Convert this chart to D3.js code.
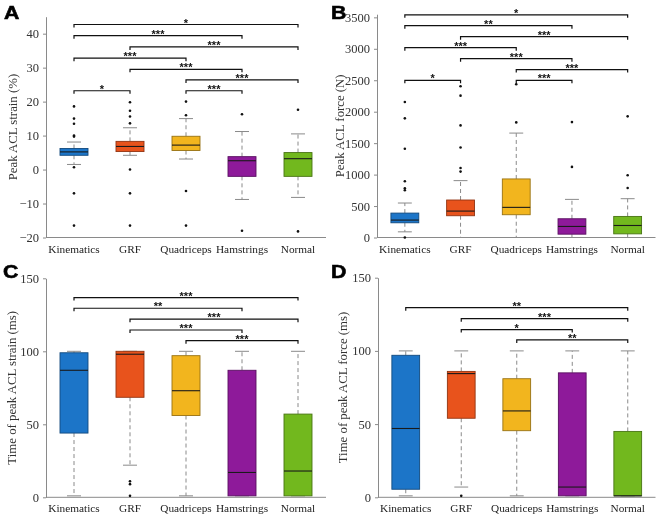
<!DOCTYPE html>
<html>
<head>
<meta charset="utf-8">
<script src="https://cdn.jsdelivr.net/npm/d3@7"></script>
<style>
  body { margin: 0; background: #fff; }
  svg text { font-family: "Liberation Serif", "Times New Roman", serif; }
  svg text.sans { font-family: "Liberation Sans", Arial, sans-serif; }
  svg { will-change: transform; }
</style>
</head>
<body>
<svg id="chart" width="660" height="520"></svg>
<script>
const categories = ["Kinematics", "GRF", "Quadriceps", "Hamstrings", "Normal"];
const colors = ["#1c75c8", "#e8531c", "#f2b51e", "#8e1a9a", "#72b81e"];

// A: peak ACL strain (%)
const strainQ1 = [4.2, 5.3, 5.6, -2, -2];
const strainMedian = [5.2, 6.8, 7.2, 2.6, 3.2];
const strainQ3 = [6.2, 8.3, 9.8, 3.8, 5];
const strainLo = [1.5, 4.2, 3.1, -8.8, -8.2];
const strainHi = [8.1, 12.3, 15, 11.2, 10.5];
const strainOutliers = [
  [18.6, 15, 13.5, 10, 9.7, 0.7, -7, -16.5],
  [19.8, 17.3, 15.6, 13.6, 0, -7, -16.5],
  [20, 16, -6.3, -16.5],
  [16.3, -18],
  [17.6, -18.2]
];
// [from, to, level, stars]
const strainBrackets = [
  [0, 4, 42.7, "*"], [0, 3, 39.4, "***"], [1, 4, 36.1, "***"], [0, 2, 32.8, "***"],
  [1, 3, 29.5, "***"], [2, 4, 26.4, "***"], [2, 3, 23.2, "***"], [0, 1, 23.2, "*"]
];

// B: peak ACL force (N)
const forceQ1 = [234, 346, 362, 53, 58];
const forceMedian = [277, 420, 479, 176, 191];
const forceQ3 = [388, 596, 931, 298, 335];
const forceLo = [90, 0, 0, 0, 0];
const forceHi = [548, 904, 1660, 606, 617];
const forceOutliers = [
  [2154, 1894, 1410, 894, 782, 750, 0],
  [2404, 2255, 1782, 1431, 1106, 1048],
  [2436, 1830],
  [1835, 1122],
  [1926, 989, 787]
];
const forceBrackets = [
  [0, 4, 3540, "*"], [0, 3, 3368, "**"], [1, 4, 3193, "***"], [0, 2, 3018, "***"],
  [1, 3, 2843, "***"], [2, 4, 2669, "***"], [2, 3, 2499, "***"], [0, 1, 2499, "*"]
];

// C: time of peak ACL strain (ms)
const tStrainQ1 = [44, 68.5, 56, 1, 1];
const tStrainMedian = [87, 98, 73, 17, 18];
const tStrainQ3 = [99, 100, 97, 87, 57];
const tStrainLo = [1, 22, 1, 1, 1];
const tStrainHi = [100, 100, 100, 100, 100];
const tStrainOutliers = [[], [11, 9, 1], [], [], []];
const tStrainBrackets = [
  [0, 4, 136.8, "***"], [0, 3, 129.5, "**"], [1, 4, 122, "***"],
  [1, 3, 114.6, "***"], [2, 4, 107.3, "***"]
];

// D: time of peak ACL force (ms)
const tForceQ1 = [5.5, 54, 45.5, 1, 1];
const tForceMedian = [47, 84.5, 59, 7, 1];
const tForceQ3 = [97, 86, 81, 85, 45];
const tForceLo = [1, 7, 1, 1, 1];
const tForceHi = [100, 100, 100, 100, 100];
const tForceOutliers = [[], [1], [], [], []];
const tForceBrackets = [
  [0, 4, 129.5, "**"], [1, 4, 122, "***"], [1, 3, 114.6, "*"], [2, 4, 107.5, "**"]
];

const svg = d3.select("#chart");
const serif = "'Liberation Serif', 'Times New Roman', serif";

function drawPanel(p) {
  const x = d3.scaleLinear().domain([0.5, 5.5]).range([p.left, p.right]);
  const y = d3.scaleLinear().domain(p.domain).range([p.bottom, p.top]);
  const g = svg.append("g");
  const half = (x(1.25) - x(1)); // box half width
  const capHalf = half / 2;

  // axes
  const yAxis = g.append("g")
    .attr("transform", `translate(${p.left},0)`)
    .call(d3.axisLeft(y).tickValues(p.ticks).tickFormat(d3.format("d"))
      .tickSize(3).tickPadding(4).tickSizeOuter(0));
  yAxis.attr("font-family", null);
  yAxis.select(".domain").attr("stroke", "#8a8a8a");
  yAxis.selectAll(".tick line").attr("stroke", "#8a8a8a");
  yAxis.selectAll(".tick text").attr("font-size", 12.5).attr("fill", "#333")
    .style("font-family", serif);

  g.append("line")
    .attr("x1", p.left).attr("x2", p.right)
    .attr("y1", p.bottom).attr("y2", p.bottom)
    .attr("stroke", "#8a8a8a");

  g.selectAll(".xlab").data(categories).enter().append("text")
    .attr("x", (d, i) => x(i + 1))
    .attr("y", p.bottom + 15)
    .attr("text-anchor", "middle")
    .attr("font-size", 11.3)
    .attr("fill", "#222")
    .style("font-family", serif)
    .text(d => d);

  // y label
  g.append("text")
    .attr("transform", `translate(${p.labelX},${(p.top + p.bottom) / 2}) rotate(-90)`)
    .attr("text-anchor", "middle")
    .attr("font-size", 12.8)
    .attr("fill", "#333")
    .style("font-family", serif)
    .text(p.ylabel);

  // panel letter
  g.append("text")
    .attr("class", "sans")
    .attr("transform", `translate(${p.letterX},${p.letterY}) scale(1.12,1)`)
    .attr("font-weight", "bold")
    .attr("font-size", 19)
    .attr("stroke", "#000").attr("stroke-width", 0.6)
    .attr("fill", "#000")
    .text(p.letter);

  categories.forEach((c, i) => {
    const cx = x(i + 1);
    const dash = "4,3";
    // whiskers
    g.append("line").attr("x1", cx).attr("x2", cx)
      .attr("y1", y(p.q3[i])).attr("y2", y(p.hi[i]))
      .attr("stroke", "#8a8a8a").attr("stroke-dasharray", dash);
    g.append("line").attr("x1", cx).attr("x2", cx)
      .attr("y1", y(p.q1[i])).attr("y2", y(p.lo[i]))
      .attr("stroke", "#8a8a8a").attr("stroke-dasharray", dash);
    [p.hi[i], p.lo[i]].forEach(v => {
      g.append("line").attr("x1", cx - capHalf).attr("x2", cx + capHalf)
        .attr("y1", y(v)).attr("y2", y(v))
        .attr("stroke", "#8a8a8a");
    });
    // box
    g.append("rect")
      .attr("x", cx - half).attr("width", 2 * half)
      .attr("y", y(p.q3[i])).attr("height", Math.max(0.5, y(p.q1[i]) - y(p.q3[i])))
      .attr("fill", colors[i])
      .attr("stroke", d3.color(colors[i]).darker(1.3))
      .attr("stroke-width", 0.9);
    g.append("line").attr("x1", cx - half).attr("x2", cx + half)
      .attr("y1", y(p.median[i])).attr("y2", y(p.median[i]))
      .attr("stroke", "#1a1a1a").attr("stroke-width", 1.1);
    // outliers
    g.selectAll(null).data(p.outliers[i]).enter().append("circle")
      .attr("cx", cx).attr("cy", d => y(d)).attr("r", 1.3)
      .attr("fill", "#111");
  });

  // significance brackets
  p.brackets.forEach(([a, b, lvl, s]) => {
    const x1 = x(a + 1), x2 = x(b + 1), yy = y(lvl);
    g.append("path")
      .attr("d", `M${x1},${yy + 3}V${yy}H${x2}V${yy + 3}`)
      .attr("fill", "none").attr("stroke", "#111").attr("stroke-width", 1.2);
    g.append("text")
      .attr("class", "sans")
      .attr("x", (x1 + x2) / 2).attr("y", yy + 2)
      .attr("text-anchor", "middle")
      .attr("font-size", 11)
      .attr("font-weight", "bold")
      .attr("fill", "#111")
      .text(s);
  });
}

drawPanel({
  letter: "A", letterX: 4, letterY: 19, labelX: 17,
  left: 46, right: 326, top: 16.7, bottom: 237.5,
  domain: [-20, 45], ticks: d3.range(-20, 41, 10),
  ylabel: "Peak ACL strain (%)",
  q1: strainQ1, median: strainMedian, q3: strainQ3, lo: strainLo, hi: strainHi,
  outliers: strainOutliers, brackets: strainBrackets
});
drawPanel({
  letter: "B", letterX: 331, letterY: 19, labelX: 344,
  left: 377, right: 655.5, top: 14.2, bottom: 237.5,
  domain: [0, 3550], ticks: d3.range(0, 3501, 500),
  ylabel: "Peak ACL force (N)",
  q1: forceQ1, median: forceMedian, q3: forceQ3, lo: forceLo, hi: forceHi,
  outliers: forceOutliers, brackets: forceBrackets
});
drawPanel({
  letter: "C", letterX: 3, letterY: 278, labelX: 16,
  left: 46, right: 326, top: 278.3, bottom: 497.3,
  domain: [0, 150], ticks: [0, 50, 100, 150],
  ylabel: "Time of peak ACL strain (ms)",
  q1: tStrainQ1, median: tStrainMedian, q3: tStrainQ3, lo: tStrainLo, hi: tStrainHi,
  outliers: tStrainOutliers, brackets: tStrainBrackets
});
drawPanel({
  letter: "D", letterX: 331, letterY: 278, labelX: 347,
  left: 378, right: 655.5, top: 277.7, bottom: 497.3,
  domain: [0, 150], ticks: [0, 50, 100, 150],
  ylabel: "Time of peak ACL force (ms)",
  q1: tForceQ1, median: tForceMedian, q3: tForceQ3, lo: tForceLo, hi: tForceHi,
  outliers: tForceOutliers, brackets: tForceBrackets
});
</script>
</body>
</html>
